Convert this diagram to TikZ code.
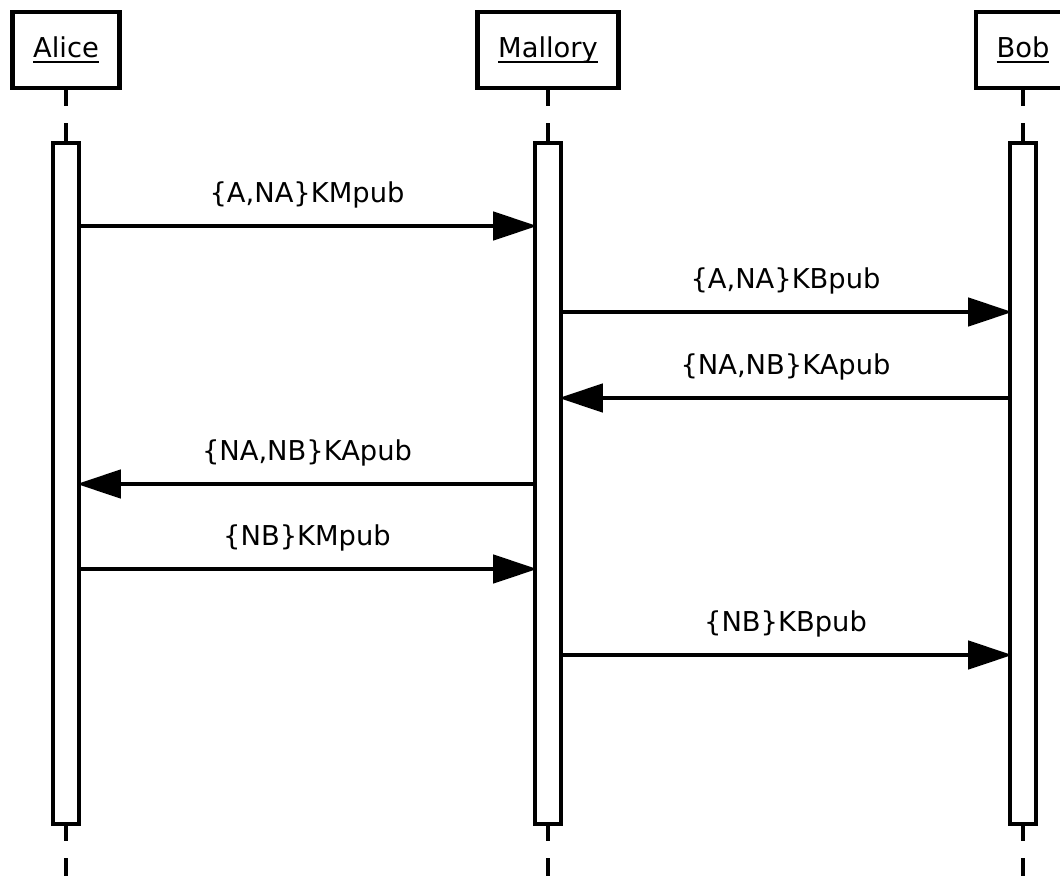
\documentclass[tikz,border=0pt]{standalone}
\usepackage{fontspec}
\setmainfont{DejaVu Sans}
\usetikzlibrary{arrows.meta, positioning}

% underlined actor name
\newcommand{\actorname}[1]{\setbox0\hbox{#1}\rlap{\rule[-4pt]{\wd0}{1.6pt}}\box0}

\begin{document}
\begin{tikzpicture}[
      x=0.75pt, y=-0.75pt,
      font=\fontsize{20.5}{24}\selectfont,
      >=Latex,
      actor/.style={
        draw=black,
        fill=white,
        minimum height=57pt,
        inner xsep=15.5pt,
        outer sep=0pt,
        line width=3.4pt
      },
      activation/.style={
        draw=black,
        fill=white,
        minimum width=19.2pt,
        minimum height=510.75pt,
        inner sep=0pt,
        outer sep=0pt,
        line width=3.4pt
      },
      lifeline/.style={draw=black, line width=2.4pt, dash pattern=on 13.5pt off 12.75pt},
      msg/.style={-{Triangle[length=33pt, width=21pt]}, draw=black, line width=3.4pt, shorten >=-1.5pt},
      msglabel/.style={midway, yshift=23pt}
    ]
    \useasboundingbox (0,0) rectangle (1060,875);

    % Actor nodes
    \node[actor] (alice) at (66,50) {\actorname{Alice}};
    \node[actor] (mallory) at (548,50) {\actorname{Mallory}};
    \node[actor] (bob) at (1023,50) {\actorname{Bob}};

    % Lifelines
    \coordinate (aliceEnd) at (66,876);
    \coordinate (malloryEnd) at (548,876);
    \coordinate (bobEnd) at (1023,876);
    \draw[lifeline] (alice.south) -- (aliceEnd);
    \draw[lifeline] (mallory.south) -- (malloryEnd);
    \draw[lifeline] (bob.south) -- (bobEnd);

    % Activation bars
    \node[activation, below=41.25pt of alice] (aliceBar) {};
    \node[activation, below=41.25pt of mallory] (malloryBar) {};
    \node[activation, below=41.25pt of bob] (bobBar) {};

    % Messages
    \draw[msg] ([yshift=-62.25pt]aliceBar.north east) -- ([yshift=-62.25pt]malloryBar.north west)
      node[msglabel] {\{A,NA\}KMpub};
    \draw[msg] ([yshift=-126.75pt]malloryBar.north east) -- ([yshift=-126.75pt]bobBar.north west)
      node[msglabel] {\{A,NA\}KBpub};
    \draw[msg] ([yshift=-191.25pt]bobBar.north west) -- ([yshift=-191.25pt]malloryBar.north east)
      node[msglabel] {\{NA,NB\}KApub};
    \draw[msg] ([yshift=-255.75pt]malloryBar.north west) -- ([yshift=-255.75pt]aliceBar.north east)
      node[msglabel] {\{NA,NB\}KApub};
    \draw[msg] ([yshift=-319.5pt]aliceBar.north east) -- ([yshift=-319.5pt]malloryBar.north west)
      node[msglabel] {\{NB\}KMpub};
    \draw[msg] ([yshift=-384pt]malloryBar.north east) -- ([yshift=-384pt]bobBar.north west)
      node[msglabel] {\{NB\}KBpub};

  \end{tikzpicture}
\end{document}
